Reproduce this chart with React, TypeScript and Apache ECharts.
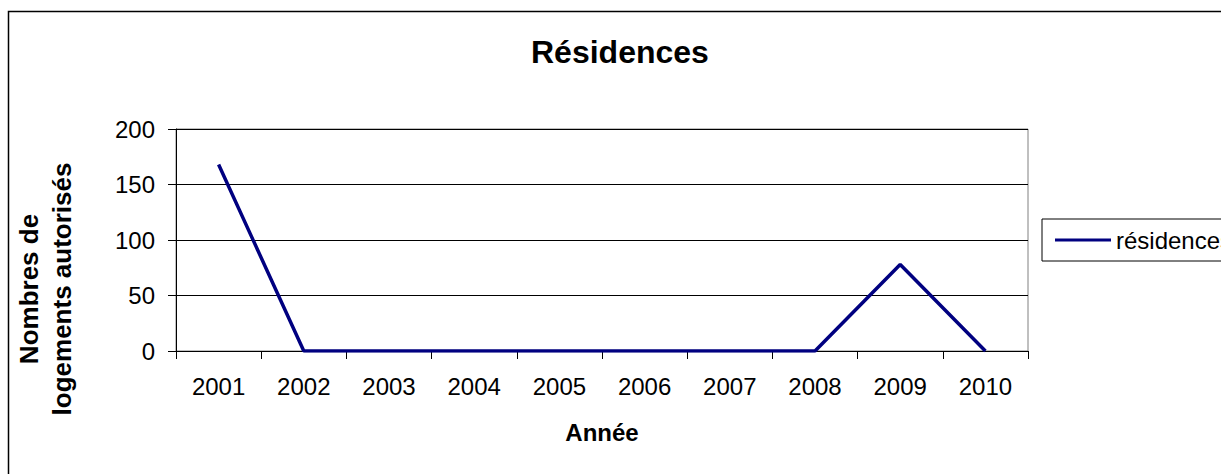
import React, { useEffect, useRef } from "react";
import * as echarts from "echarts";

const categories = ["2001", "2002", "2003", "2004", "2005", "2006", "2007", "2008", "2009", "2010"];
const residences = [168, 0, 0, 0, 0, 0, 0, 0, 78, 0];
const yTicks = { min: 0, max: 200, interval: 50 };
const titleText = "Résidences";
const seriesName = "résidences";
const xName = "Année";
const yName = "Nombres de\nlogements autorisés";

const FONT = '"Liberation Sans", Arial, sans-serif';

export default function App() {
  const ref = useRef<HTMLDivElement>(null);
  useEffect(() => {
    if (!ref.current) return;
    const chart = echarts.init(ref.current, undefined, { renderer: "svg" });
    chart.setOption({
      animation: false,
      backgroundColor: "#fff",
      textStyle: { fontFamily: FONT },
      title: {
        text: titleText,
        left: 531,
        top: 36,
        padding: 0,
        textStyle: { fontFamily: FONT, fontSize: 32, fontWeight: "bold", color: "#000" },
      },
      legend: {
        left: 1042,
        top: 219,
        padding: [9, 13],
        borderColor: "#000",
        borderWidth: 1,
        backgroundColor: "#fff",
        icon: "rect",
        itemWidth: 56,
        itemHeight: 3,
        textStyle: { fontFamily: FONT, fontSize: 24, color: "#000" },
        data: [seriesName],
      },
      grid: {
        left: 176,
        top: 129,
        width: 852,
        height: 222,
        show: true,
        borderColor: "#808080",
        borderWidth: 1,
        backgroundColor: "#fff",
      },
      xAxis: {
        type: "category",
        data: categories,
        boundaryGap: true,
        name: xName,
        nameLocation: "middle",
        nameGap: 69,
        nameMoveOverlap: false,
        nameTextStyle: { fontFamily: FONT, fontSize: 24, fontWeight: "bold", color: "#000" },
        axisLine: { show: true, lineStyle: { color: "#000", width: 1 } },
        axisTick: { show: true, interval: 0, length: 8, inside: false, lineStyle: { color: "#000" } },
        axisLabel: { interval: 0, margin: 23, fontFamily: FONT, fontSize: 24, color: "#000" },
        splitLine: { show: false },
      },
      yAxis: {
        type: "value",
        min: yTicks.min,
        max: yTicks.max,
        interval: yTicks.interval,
        axisLine: { show: true, lineStyle: { color: "#000", width: 1 } },
        axisTick: { show: true, length: 8, inside: false, lineStyle: { color: "#000" } },
        axisLabel: { margin: 21, fontFamily: FONT, fontSize: 24, color: "#000" },
        splitLine: { show: true, lineStyle: { color: "#000", width: 1 } },
      },
      graphic: [
        {
          type: "rect",
          shape: { x: 8.5, y: 11.5, width: 1300, height: 600 },
          style: { fill: "none", stroke: "#000", lineWidth: 1.5 },
          silent: true,
          z: 100,
        },
        {
          type: "text",
          x: 45,
          y: 289,
          rotation: Math.PI / 2,
          style: {
            text: yName,
            font: 'bold 26px "Liberation Sans", Arial, sans-serif',
            fill: "#000",
            textAlign: "center",
            textVerticalAlign: "middle",
            lineHeight: 33,
          },
        },
      ],
      series: [
        {
          name: seriesName,
          type: "line",
          data: residences,
          showSymbol: false,
          symbol: "none",
          lineStyle: { color: "#000080", width: 3.5 },
          itemStyle: { color: "#000080" },
        },
      ],
    });
    return () => chart.dispose();
  }, []);
  return (
    <div
      ref={ref}
      style={{ position: "fixed", left: 0, top: 0, width: 1221, height: 474, overflow: "hidden" }}
    />
  );
}
